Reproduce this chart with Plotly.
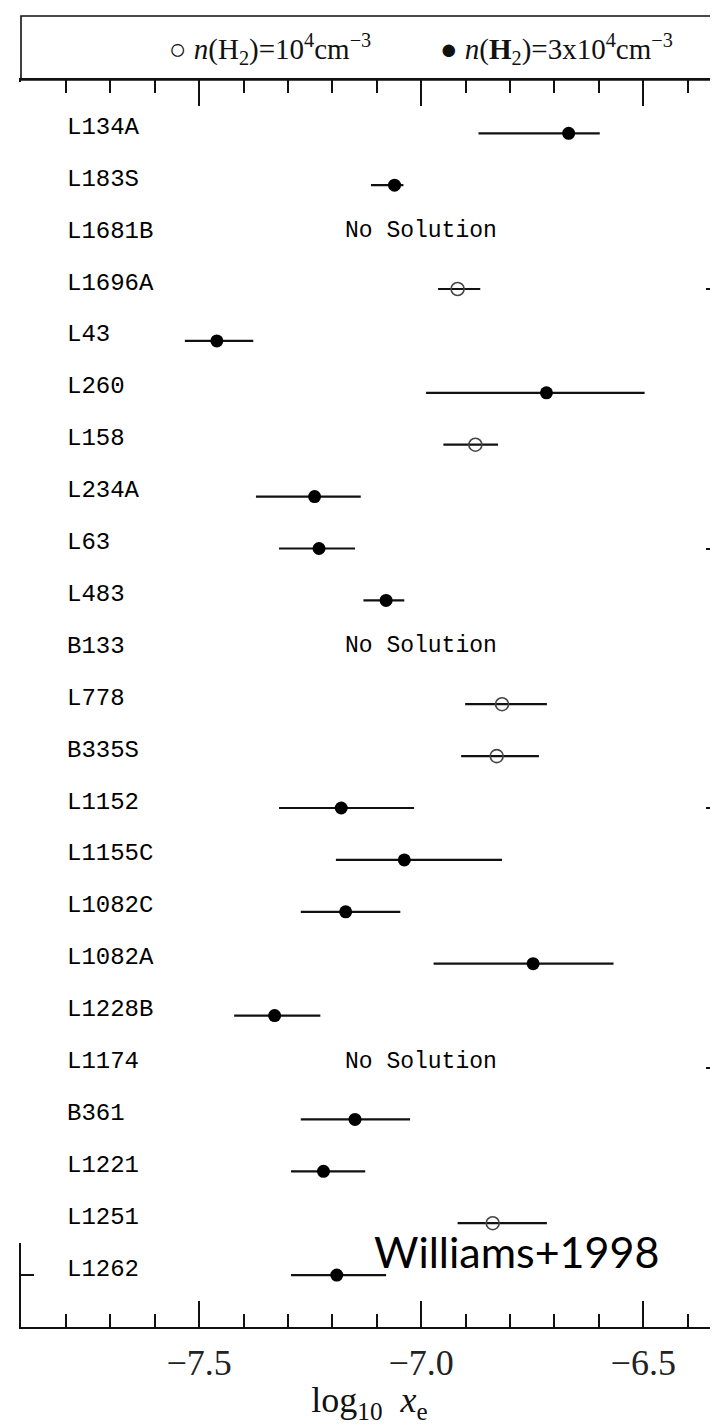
import plotly.graph_objects as go

# ---------------- data ----------------
cores = ["L134A", "L183S", "L1681B", "L1696A", "L43", "L260", "L158", "L234A",
         "L63", "L483", "B133", "L778", "B335S", "L1152", "L1155C", "L1082C",
         "L1082A", "L1228B", "L1174", "B361", "L1221", "L1251", "L1262"]

# best-fit log10 x_e (None = "No Solution")
log_xe = [-6.668, -7.060, None, -6.918, -7.460, -6.718, -6.878, -7.240,
          -7.230, -7.079, None, -6.818, -6.830, -7.180, -7.038, -7.170,
          -6.748, -7.330, None, -7.149, -7.220, -6.839, -7.190]
log_xe_low = [-6.871, -7.113, None, -6.962, -7.532, -6.989, -6.950, -7.372,
              -7.320, -7.130, None, -6.901, -6.910, -7.320, -7.192, -7.271,
              -6.972, -7.421, None, -7.271, -7.293, -6.918, -7.293]
log_xe_high = [-6.598, -7.040, None, -6.867, -7.378, -6.497, -6.827, -7.136,
               -7.149, -7.038, None, -6.717, -6.735, -7.016, -6.818, -7.047,
               -6.567, -7.227, None, -7.025, -7.126, -6.717, -7.079]
# density used for each solution: "1e4" (open) or "3e4" (filled)
density = ["3e4", "3e4", None, "1e4", "3e4", "3e4", "1e4", "3e4",
           "3e4", "3e4", None, "1e4", "1e4", "3e4", "3e4", "3e4",
           "3e4", "3e4", None, "3e4", "3e4", "1e4", "3e4"]

no_solution_text = "No Solution"
legend_labels = {
    "1e4": "○ <i>n</i>(H<sub>2</sub>)=10<sup>4</sup>cm<sup>−3</sup>",
    "3e4": "● <i>n</i>(<b>H</b><sub>2</sub>)=3x10<sup>4</sup>cm<sup>−3</sup>",
}
x_tick_vals = [-7.5, -7.0, -6.5]
x_title = "log<sub>10</sub>  <i>x</i><sub>e</sub>"
credit = "Williams+1998"

# ---------------- geometry ----------------
OFF = 8                      # default page margin of the html body
W, H = 718 - OFF, 1425 - OFF
ML, MR, MT, MB = 21 - OFF, 0, 80 - OFF, 98
plot_w = W - ML - MR
plot_h = H - MT - MB


def px_x(p):
    """page pixel -> paper x"""
    return (p - OFF - ML) / plot_w


def px_y(p):
    """page pixel -> paper y"""
    return (MT + plot_h - (p - OFF)) / plot_h


rows = list(range(len(cores)))
X_RANGE = [-7.9009, -6.3318]
Y_RANGE = [23.0, -1.027]

fig = go.Figure()


def add_series(key, symbol, color, line_w):
    idx = [i for i in rows if density[i] == key]
    fig.add_trace(go.Scatter(
        x=[log_xe[i] for i in idx],
        y=[rows[i] for i in idx],
        mode="markers",
        marker=dict(symbol=symbol, size=13, color=color,
                    line=dict(width=line_w, color=color)),
        error_x=dict(type="data", symmetric=False,
                     array=[log_xe_high[i] - log_xe[i] for i in idx],
                     arrayminus=[log_xe[i] - log_xe_low[i] for i in idx],
                     color="#111111", thickness=2.2, width=0),
        showlegend=False,
        hoverinfo="skip",
    ))


add_series("1e4", "circle-open", "#444444", 1.6)
add_series("3e4", "circle", "#000000", 0)

# dummy trace to carry the right-hand tick axis
fig.add_trace(go.Scatter(x=[None], y=[None], yaxis="y2", showlegend=False,
                         hoverinfo="skip"))

annotations = []
mono = "Liberation Mono, Courier New, monospace"
for i, name in enumerate(cores):
    annotations.append(dict(
        text=name, xref="paper", x=px_x(65), yref="y", y=rows[i],
        xanchor="left", yanchor="middle", yshift=6, showarrow=False,
        font=dict(family=mono, size=24, color="#000000")))
    if log_xe[i] is None:
        annotations.append(dict(
            text=no_solution_text, xref="x", x=-7.0, yref="y", y=rows[i],
            xanchor="center", yanchor="middle", yshift=6, showarrow=False,
            font=dict(family=mono, size=23, color="#000000")))

serif = "Liberation Serif, serif"
annotations.append(dict(text=legend_labels["1e4"], xref="paper", x=px_x(167),
                        yref="paper", y=px_y(49), xanchor="left",
                        yanchor="middle", showarrow=False,
                        font=dict(family=serif, size=29, color="#111111")))
annotations.append(dict(text=legend_labels["3e4"], xref="paper", x=px_x(438),
                        yref="paper", y=px_y(49), xanchor="left",
                        yanchor="middle", showarrow=False,
                        font=dict(family=serif, size=29, color="#111111")))
annotations.append(dict(text=credit, xref="paper", x=px_x(372),
                        yref="paper", y=px_y(1251), xanchor="left",
                        yanchor="middle", showarrow=False,
                        font=dict(family="Lato, Carlito, sans-serif", size=43,
                                  color="#000000")))

shapes = [
    # legend box above the plot (its right side runs off the page)
    dict(type="rect", xref="paper", yref="paper",
         x0=0, x1=1.05, y0=1, y1=px_y(16),
         line=dict(color="#111111", width=1.6), fillcolor="rgba(0,0,0,0)"),
    # white patch reproducing the cropped-away left frame of the source
    dict(type="rect", xref="paper", yref="paper", layer="above",
         x0=px_x(-20), x1=px_x(48), y0=px_y(1243), y1=px_y(82),
         line=dict(width=0), fillcolor="white"),
]

fig.update_layout(
    width=W, height=H,
    margin=dict(l=ML, r=MR, t=MT, b=MB, pad=0),
    paper_bgcolor="white", plot_bgcolor="white",
    showlegend=False,
    annotations=annotations,
    shapes=shapes,
    xaxis=dict(
        range=X_RANGE, showgrid=False, zeroline=False,
        showline=True, linecolor="#111111", linewidth=1.6, mirror="ticks",
        ticks="inside", ticklen=26, tickwidth=1.6, tickcolor="#111111",
        tickvals=x_tick_vals, tickformat=".1f", ticklabelstandoff=3,
        tickfont=dict(family=serif, size=36, color="#222222"),
        minor=dict(dtick=0.1, tick0=-7.5, ticks="inside", ticklen=13,
                   tickwidth=1.6, tickcolor="#111111", showgrid=False),
        title=dict(text=x_title, standoff=8,
                   font=dict(family=serif, size=36, color="#111111")),
    ),
    yaxis=dict(
        range=Y_RANGE, showgrid=False, zeroline=False,
        showline=True, linecolor="#111111", linewidth=1.6,
        ticks="inside", tick0=3, dtick=5, ticklen=26, tickwidth=1.6,
        tickcolor="#111111", showticklabels=False,
        minor=dict(tickvals=rows, ticks="inside", ticklen=13,
                   tickwidth=1.6, tickcolor="#111111", showgrid=False),
    ),
    yaxis2=dict(
        range=Y_RANGE, overlaying="y", side="right", anchor="x",
        showgrid=False, zeroline=False, showline=False,
        ticks="inside", tick0=3, dtick=5, ticklen=12, tickwidth=1.6,
        tickcolor="#111111", showticklabels=False,
    ),
)

fig.write_html("out.html")
